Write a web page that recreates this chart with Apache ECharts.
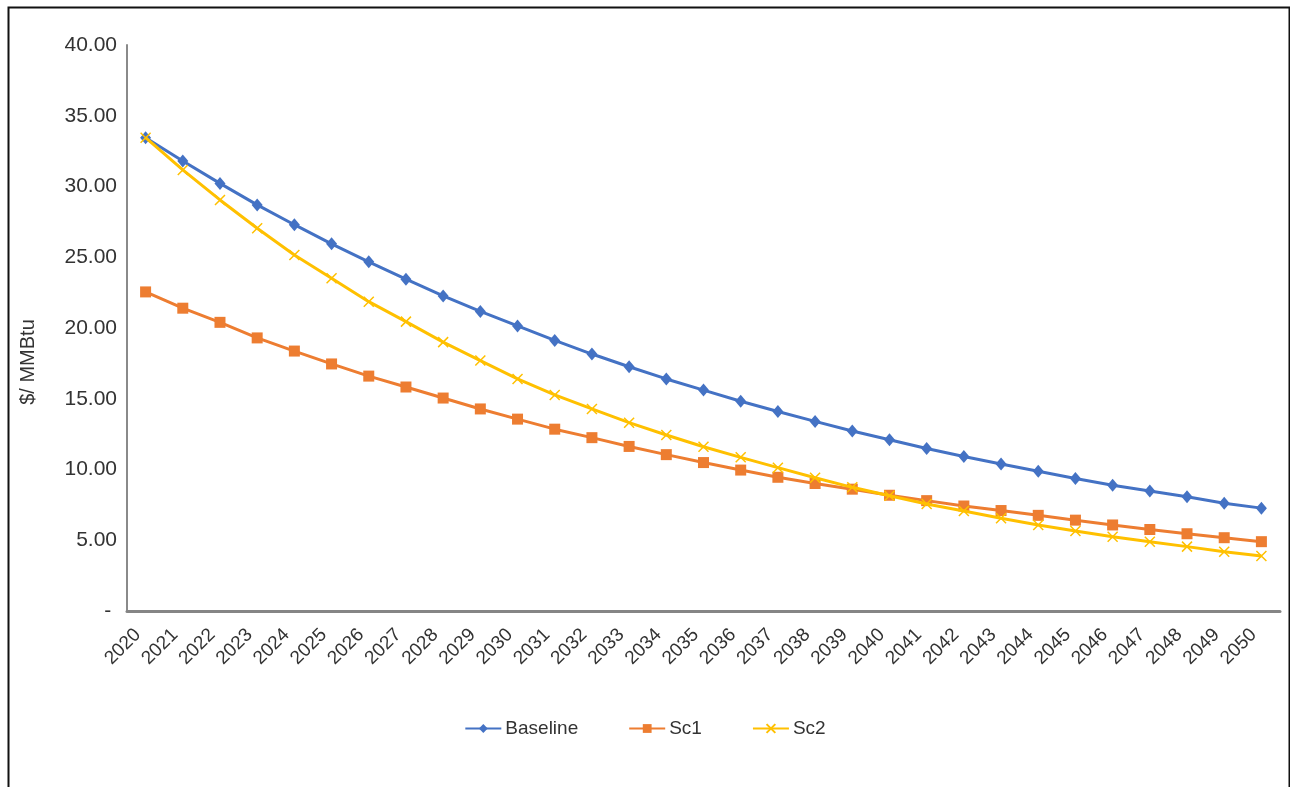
<!DOCTYPE html>
<html>
<head>
<meta charset="utf-8">
<title>$/ MMBtu 2020-2050</title>
<script src="https://cdn.jsdelivr.net/npm/echarts@6/dist/echarts.min.js"></script>
<style>
  html, body { margin: 0; padding: 0; background: #ffffff; }
  #chart { width: 1290px; height: 787px; }
</style>
</head>
<body>
<div id="chart"></div>
<script>
// Years on the category axis
const years = [
  '2020','2021','2022','2023','2024','2025','2026','2027','2028','2029',
  '2030','2031','2032','2033','2034','2035','2036','2037','2038','2039',
  '2040','2041','2042','2043','2044','2045','2046','2047','2048','2049','2050'
];

// Price paths, $/MMBtu
const baseline = [
  33.45, 31.80, 30.22, 28.70, 27.30, 25.95, 24.68, 23.45, 22.27, 21.17,
  20.15, 19.12, 18.16, 17.26, 16.40, 15.61, 14.82, 14.10, 13.40, 12.72,
  12.10, 11.48, 10.92, 10.39, 9.87, 9.36, 8.88, 8.48, 8.07, 7.62, 7.27
];
const sc1 = [
  22.55, 21.40, 20.40, 19.30, 18.37, 17.46, 16.60, 15.83, 15.05, 14.28,
  13.56, 12.85, 12.25, 11.63, 11.05, 10.49, 9.96, 9.45, 9.01, 8.61,
  8.18, 7.80, 7.42, 7.10, 6.76, 6.42, 6.08, 5.76, 5.46, 5.18, 4.90
];
const sc2 = [
  33.45, 31.17, 29.05, 27.05, 25.16, 23.51, 21.86, 20.45, 19.00, 17.70,
  16.40, 15.27, 14.28, 13.31, 12.44, 11.61, 10.86, 10.13, 9.42, 8.74,
  8.15, 7.56, 7.07, 6.55, 6.08, 5.65, 5.25, 4.90, 4.55, 4.19, 3.89
];

// Value-axis ticks
const yMin = 0, yMax = 40, yStep = 5;
const yTitle = '$/ MMBtu';

const FONT = '"Liberation Sans", Arial, sans-serif';
const TEXT = '#333333';

const chart = echarts.init(document.getElementById('chart'), null, { renderer: 'canvas' });

chart.setOption({
  backgroundColor: '#ffffff',
  animation: false,
  textStyle: { fontFamily: FONT, color: TEXT },
  grid: { left: 127, right: 10, top: 45, bottom: 176, containLabel: false },
  graphic: [
    {
      type: 'rect',
      left: 6, top: 5,
      shape: { x: 0, y: 0, width: 1281, height: 800 },
      style: { fill: 'none', stroke: '#111111', lineWidth: 2 },
      silent: true
    },
    {
      type: 'text',
      x: 28, y: 362,
      rotation: Math.PI / 2,
      style: {
        text: yTitle,
        font: '20px ' + FONT,
        fill: TEXT,
        align: 'center',
        verticalAlign: 'middle'
      },
      silent: true
    }
  ],
  legend: {
    left: 'center',
    top: 714,
    itemWidth: 36,
    itemHeight: 11,
    itemGap: 50,
    textStyle: { fontFamily: FONT, fontSize: 19, color: TEXT, padding: [0, 0, 0, -1] },
    data: ['Baseline', 'Sc1', 'Sc2']
  },
  xAxis: {
    type: 'category',
    data: years,
    boundaryGap: true,
    axisLine: { lineStyle: { color: '#858585', width: 3 } },
    axisTick: { show: false },
    axisLabel: {
      interval: 0,
      rotate: 45,
      margin: 13,
      padding: [0, 11, 0, 0],
      fontFamily: FONT,
      fontSize: 19,
      color: TEXT
    },
    splitLine: { show: false }
  },
  yAxis: {
    type: 'value',
    min: yMin,
    max: yMax,
    interval: yStep,
    axisLine: { show: true, lineStyle: { color: '#8a8a8a', width: 2 } },
    axisTick: { show: false },
    splitLine: { show: false },
    axisLabel: {
      margin: 10,
      fontFamily: FONT,
      fontSize: 21,
      color: TEXT,
      formatter: function (v) { return v === 0 ? '- ' : v.toFixed(2); }
    }
  },
  series: [
    {
      name: 'Baseline',
      type: 'line',
      data: baseline,
      symbol: 'diamond',
      symbolSize: [11, 13],
      lineStyle: { color: '#4472C4', width: 3 },
      itemStyle: { color: '#4472C4' },
      z: 3
    },
    {
      name: 'Sc1',
      type: 'line',
      data: sc1,
      symbol: 'rect',
      symbolSize: 11,
      lineStyle: { color: '#ED7D31', width: 3 },
      itemStyle: { color: '#ED7D31' },
      z: 2
    },
    {
      name: 'Sc2',
      type: 'line',
      data: sc2,
      symbol: 'path://M0,0L10,10M0,10L10,0',
      symbolSize: 10,
      lineStyle: { color: '#FFC000', width: 3 },
      itemStyle: { color: '#FFC000', borderColor: '#FFC000', borderWidth: 1.5 },
      z: 4
    }
  ]
});
</script>
</body>
</html>
